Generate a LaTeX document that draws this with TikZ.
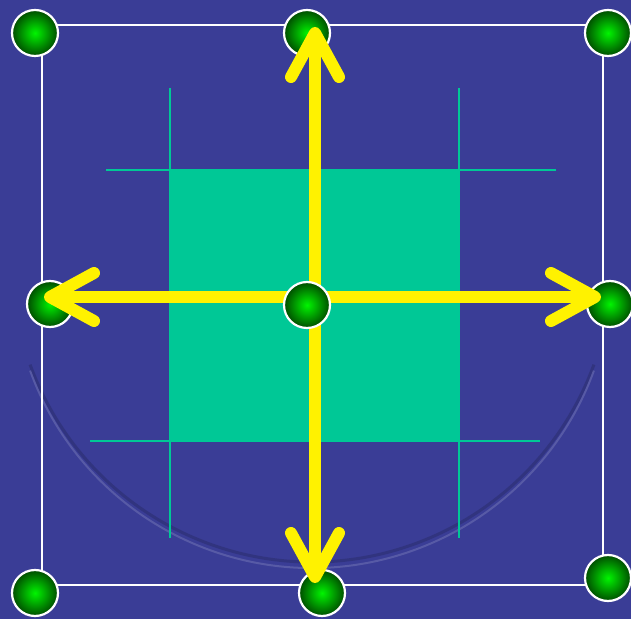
\documentclass[tikz,border=0pt]{standalone}
\usepackage{xcolor}
\usetikzlibrary{arrows.meta}
\definecolor{coin}{HTML}{3A3D96}
\definecolor{mint}{HTML}{00C896}
\definecolor{grab}{HTML}{00F400}
\definecolor{grabdark}{HTML}{004C00}
\tikzset{
  handle/.style={circle, draw=white, line width=1.1pt, inner sep=0pt, minimum size=23pt, inner color=grab, outer color=grabdark},
  guide/.style={mint, line width=1pt},
  frame/.style={white, line width=1pt},
  yarr/.style={-{Straight Barb[length=22pt, width=24pt, line cap=round, line join=round]}, yellow, line width=6pt, line cap=round},
}

\begin{document}
\begin{tikzpicture}[x=0.5pt, y=-0.5pt]
\useasboundingbox (0,0) rectangle (631,619);
\fill[coin] (0,0) rectangle (631,619);
\clip (0,0) rectangle (631,619);
% faint coin rim
\coordinate (rim) at (312,262);
\draw[coin!75!black, line width=1.5pt, opacity=0.6] (rim) ++(200:150pt) arc[start angle=200, end angle=340, radius=150pt];
\draw[coin!70!white, line width=1pt, opacity=0.5] (rim) ++(0,6) ++(200:150pt) arc[start angle=200, end angle=340, radius=150pt];
% selection frame
\draw[frame] (42,25) rectangle (603,585);
% the shape and its guides
\fill[mint] (170,170) rectangle (459,441);
\draw[guide] (106,170) -- (556,170);
\draw[guide] (90,441) -- (540,441);
\draw[guide] (170,88) -- (170,538);
\draw[guide] (459,88) -- (459,538);
% handles
\node[handle] (tl) at (35,33) {};
\node[handle] (tm) at (307,33) {};
\node[handle] (tr) at (608,33) {};
\node[handle] (ml) at (50,304) {};
\node[handle] (mr) at (610,304) {};
\node[handle] (bl) at (35,593) {};
\node[handle] (bm) at (322,593) {};
\node[handle] (br) at (608,578) {};
% move arrows
\coordinate (hub) at (315,297);
\coordinate (up) at (315,27);
\coordinate (down) at (315,583);
\coordinate (left) at (44,297);
\coordinate (right) at (601,297);
\draw[yarr] (hub) -- (up);
\draw[yarr] (hub) -- (down);
\draw[yarr] (hub) -- (left);
\draw[yarr] (hub) -- (right);
\node[handle] (mc) at (307,305) {};
\end{tikzpicture}
\end{document}
